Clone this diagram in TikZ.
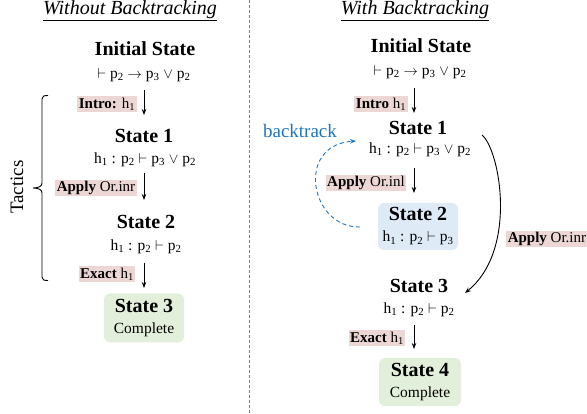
\documentclass[tikz,border=0pt]{standalone}
\usepackage{fontspec}
\setmainfont{Liberation Serif}
\usetikzlibrary{arrows.meta}
\definecolor{labpink}{RGB}{236,215,212}
\definecolor{boxgreen}{RGB}{226,239,218}
\definecolor{boxblue}{RGB}{222,235,247}
\definecolor{btblue}{RGB}{28,117,192}
\newcommand\pv[1]{p\textsubscript{#1}}
\newcommand\hv[1]{h\textsubscript{#1}}
\tikzset{
  ttl/.style={font=\fontsize{20}{22}\selectfont\itshape, inner sep=0pt},
  stname/.style={font=\fontsize{20}{22}\selectfont\bfseries, inner sep=0pt},
  formula/.style={font=\fontsize{15.5}{18}\selectfont, inner sep=0pt},
  lab/.style={fill=labpink, inner sep=1.6pt, font=\fontsize{15}{17}\selectfont},
  stbox/.style={rounded corners=6pt, minimum width=80pt, minimum height=49pt, align=center, inner sep=0pt, font=\fontsize{15.5}{21}\selectfont},
  arr/.style={-{Stealth[length=6pt,width=4.5pt]}, line width=0.9pt},
}
\begin{document}
\begin{tikzpicture}[x=1pt,y=-1pt]
\useasboundingbox (0,0) rectangle (587,414);
% divider
\draw[gray, line width=0.9pt, dash pattern=on 3pt off 2pt] (249,0) -- (249,414);

% ---------- left ----------
\node[ttl] (lt) at (130,11) {\underline{Without Backtracking}};
\coordinate (lax) at (144,0);
\node[stname] (ls0) at (145,49) {Initial State};
\node[formula] (lf0) at (144,75) {$\vdash$ \pv{2} $\rightarrow$ \pv{3} $\vee$ \pv{2}};
\node[stname] (ls1) at (144,136) {State 1};
\node[formula] (lf1) at (145,160) {\hv{1} : \pv{2} $\vdash$ \pv{3} $\vee$ \pv{2}};
\node[stname] (ls2) at (146,222) {State 2};
\node[formula] (lf2) at (146,247) {\hv{1} : \pv{2} $\vdash$ \pv{2}};
\node[stbox, fill=boxgreen] (lb3) at (144,318) {{\fontsize{20}{21}\selectfont\bfseries State 3}\\Complete};

\draw[arr] (lax |- 0,90) -- (lax |- 0,115);
\draw[arr] (lax |- 0,173) -- (lax |- 0,200);
\draw[arr] (lax |- 0,263) -- (lax |- 0,288);

\node[lab] (ll1) at (107,104) {\textbf{Intro:} \hv{1}};
\node[lab] (ll2) at (96,188) {\textbf{Apply} Or.inr};
\node[lab] (ll3) at (107,274) {\textbf{Exact} \hv{1}};

% tactics bracket
\draw[line width=0.9pt] (48,95.5) .. controls (44,95.5) and (42,96) .. (42,99) -- (42,183)
  .. controls (42,186) and (39,188) .. (33,188)
  .. controls (39,188) and (42,190) .. (42,193) -- (42,277)
  .. controls (42,280) and (44,280.5) .. (48,280.5);
\node[rotate=90, font=\fontsize{19}{21}\selectfont, inner sep=0pt] (tac) at (17,187) {Tactics};

% ---------- right ----------
\node[ttl] (rt) at (415,11) {\underline{With Backtracking}};
\coordinate (rax) at (414,0);
\node[stname] (rs0) at (421,46) {Initial State};
\node[formula] (rf0) at (420,72) {$\vdash$ \pv{2} $\rightarrow$ \pv{3} $\vee$ \pv{2}};
\node[stname] (rs1) at (418,128) {State 1};
\node[formula] (rf1) at (420,150) {\hv{1} : \pv{2} $\vdash$ \pv{3} $\vee$ \pv{2}};
\node[stbox, fill=boxblue, minimum height=47pt] (rb2) at (418,226.5) {{\fontsize{20}{21}\selectfont\bfseries State 2}\\\hv{1} : \pv{2} $\vdash$ \pv{3}};
\node[stname] (rs3) at (419,286) {State 3};
\node[formula] (rf3) at (419,310) {\hv{1} : \pv{2} $\vdash$ \pv{2}};
\node[stbox, fill=boxgreen, minimum width=82pt, minimum height=48pt] (rb4) at (420,382) {{\fontsize{20}{21}\selectfont\bfseries State 4}\\Complete};

\draw[arr] (rax |- 0,88) -- (rax |- 0,113);
\draw[arr] (rax |- 0,168) -- (rax |- 0,193);
\draw[arr] (rax |- 0,325) -- (rax |- 0,349);

\node[lab] (rl1) at (381,104) {\textbf{Intro} \hv{1}};
\node[lab] (rl2) at (366,183) {\textbf{Apply} Or.inl};
\node[lab] (rl3) at (377,338) {\textbf{Exact} \hv{1}};
\node[lab, anchor=west] (rl4) at (506,239) {\textbf{Apply} Or.inr};

% Apply Or.inr curve
\coordinate (orA) at (482,135);
\coordinate (orB) at (465,293);
\draw[arr] (orA) .. controls (500,150) and (518,250) .. (orB);

% backtrack
\coordinate (btA) at (360,227);
\coordinate (btB) at (356,141);
\draw[arr, btblue, dash pattern=on 4pt off 3pt, line width=0.9pt] (btA) .. controls (310,228) and (295,145) .. (btB);
\node[text=btblue, font=\fontsize{19}{21}\selectfont, inner sep=0pt] (btl) at (300,131) {backtrack};
\end{tikzpicture}
\end{document}
